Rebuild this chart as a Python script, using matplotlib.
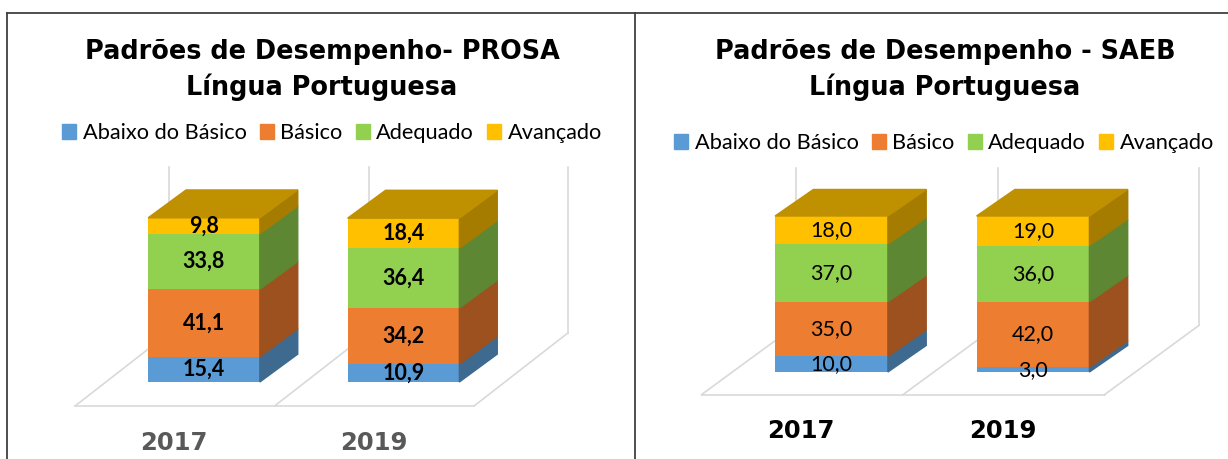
import matplotlib
matplotlib.use('Agg')
import matplotlib.pyplot as plt
from matplotlib.patches import Polygon, Patch
from matplotlib.lines import Line2D
import numpy as np

plt.rcParams['font.family'] = ['Lato', 'DejaVu Sans']

anos = ['2017', '2019']
niveis = ['Abaixo do Básico', 'Básico', 'Adequado', 'Avançado']

# PROSA
prosa_abaixo = [15.4, 10.9]
prosa_basico = [41.1, 34.2]
prosa_adequado = [33.8, 36.4]
prosa_avancado = [9.8, 18.4]

# SAEB
saeb_abaixo = [10.0, 3.0]
saeb_basico = [35.0, 42.0]
saeb_adequado = [37.0, 36.0]
saeb_avancado = [18.0, 19.0]

cores = ['#5B9BD5', '#ED7D31', '#92D050', '#FFC000']
cores_lado = ['#3E6A8F', '#9C511F', '#5E8733', '#A67C00']
cor_topo = '#BF9000'
W, H = 1228, 459


def desenha(ax, series, negrito, cor_ano):
    x = np.arange(len(anos))
    w = 0.56
    ddx, ddy = 0.19, 17          # profundidade da barra
    fy, fdx, fdy = -14.5, 0.47, 44.5  # piso
    x0 = -0.645
    cinza = '#D9D9D9'
    # piso e paredes
    ax.plot([x0, x0 + 2], [fy, fy], color=cinza, lw=1.2, zorder=1)
    for k in range(3):
        ax.plot([x0 + k, x0 + k + fdx], [fy, fy + fdy], color=cinza, lw=1.2, zorder=1)
        ax.plot([x0 + k + fdx, x0 + k + fdx], [fy + fdy, 131], color=cinza, lw=1.2, zorder=1)

    base = np.zeros(len(anos))
    for vals, c, cl in zip(series, cores, cores_lado):
        vals = np.array(vals)
        ax.bar(x, vals, w, bottom=base, color=c, zorder=3)
        for xi, b, v in zip(x, base, vals):
            xr = xi + w / 2
            ax.add_patch(Polygon([(xr, b), (xr + ddx, b + ddy), (xr + ddx, b + v + ddy), (xr, b + v)],
                                 closed=True, color=cl, zorder=3))
            ax.text(xi, b + v / 2, f'{v:.1f}'.replace('.', ','), ha='center', va='center',
                    fontsize=15.5, fontweight='bold' if negrito else 'normal', color='black', zorder=5)
        base = base + vals
    for xi, t in zip(x, base):
        ax.add_patch(Polygon([(xi - w / 2, t), (xi + w / 2, t), (xi + w / 2 + ddx, t + ddy),
                              (xi - w / 2 + ddx, t + ddy)], closed=True, color=cor_topo, zorder=4))
    for xi, a in zip(x, anos):
        ax.text(xi - 0.15, -37.5, a, ha='center', va='center', fontsize=17.5, fontweight='bold',
                family='DejaVu Sans', color=cor_ano)
    ax.set_xlim(-0.8, 1.95)
    ax.set_ylim(-40, 150)
    ax.axis('off')


fig = plt.figure(figsize=(12.28, 4.59), dpi=100)


def eixo(cx0, ppx, y0, ppy):
    left = cx0 - 0.8 * ppx
    bottom = (H - y0) - 40 * ppy
    return fig.add_axes([left / W, bottom / H, 2.75 * ppx / W, 190 * ppy / H])


ax1 = eixo(204, 199.5, 382, 1.64)
ax2 = eixo(831.5, 201.5, 372, 1.56)
desenha(ax1, [prosa_abaixo, prosa_basico, prosa_adequado, prosa_avancado], True, '#595959')
desenha(ax2, [saeb_abaixo, saeb_basico, saeb_adequado, saeb_avancado], False, 'black')

titulos = [('Padrões de Desempenho- PROSA', 322), ('Padrões de Desempenho - SAEB', 945)]
for t, cx in titulos:
    fig.text(cx / W, 1 - 52 / H, t, ha='center', va='center', fontsize=18.4, fontweight='bold',
             family='DejaVu Sans')
    fig.text(cx / W, 1 - 87 / H, 'Língua Portuguesa', ha='center', va='center', fontsize=18.4,
             fontweight='bold', family='DejaVu Sans')

handles = [Patch(color=c) for c in cores]
for cx, cy in [(332, 133), (944, 143)]:
    fig.legend(handles, niveis, ncol=4, loc='center', bbox_to_anchor=(cx / W, 1 - cy / H),
               frameon=False, fontsize=15.7, handlelength=0.65, handleheight=0.65,
               columnspacing=0.6, handletextpad=0.3)

# molduras
fig.add_artist(Line2D([7 / W, 1], [1 - 13 / H, 1 - 13 / H], color='#404040', lw=1.3,
                      transform=fig.transFigure))
fig.add_artist(Line2D([7 / W, 7 / W], [0, 1 - 13 / H], color='#404040', lw=1.3,
                      transform=fig.transFigure))
fig.add_artist(Line2D([635 / W, 635 / W], [0, 1 - 13 / H], color='#404040', lw=1.3,
                      transform=fig.transFigure))

plt.savefig('out.png', dpi=100)
